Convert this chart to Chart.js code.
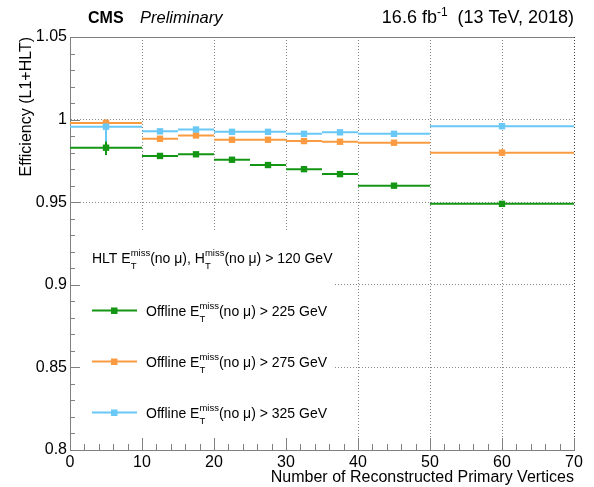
<!DOCTYPE html>
<html><head><meta charset="utf-8">
<script src="https://cdn.jsdelivr.net/npm/chart.js@4/dist/chart.umd.min.js"></script>
<style>html,body{margin:0;padding:0;background:#fff;overflow:hidden}#wrap{width:594px;height:487px}</style>
</head><body><div id="wrap"><canvas id="c" width="594" height="487"></canvas></div>
<script>
// ---- data ----
const binEdges = [0, 10, 15, 20, 25, 30, 35, 40, 50, 70];
const eff225   = [0.983, 0.978, 0.979, 0.9757, 0.9725, 0.970, 0.967, 0.960, 0.949];
const errLo225 = [0.0045, 0.0012, 0.001, 0.001, 0.001, 0.001, 0.001, 0.001, 0.0015];
const errHi225 = [0.0045, 0.0012, 0.001, 0.001, 0.001, 0.001, 0.001, 0.001, 0.0015];
const eff275   = [0.998, 0.9884, 0.9904, 0.9878, 0.9878, 0.987, 0.9866, 0.986, 0.980];
const errLo275 = [0.002, 0.001, 0.001, 0.001, 0.001, 0.001, 0.001, 0.001, 0.002];
const errHi275 = [0.002, 0.001, 0.001, 0.001, 0.001, 0.001, 0.001, 0.001, 0.002];
const eff325   = [0.9957, 0.9929, 0.994, 0.9926, 0.9926, 0.9914, 0.9923, 0.9914, 0.996];
const errLo325 = [0.009, 0.001, 0.001, 0.001, 0.001, 0.001, 0.001, 0.001, 0.0015];
const errHi325 = [0.002, 0.001, 0.001, 0.001, 0.001, 0.001, 0.001, 0.001, 0.0015];
const seriesThresholds = ['225', '275', '325'];
const xMajorTicks = [0, 10, 20, 30, 40, 50, 60, 70];
const xTickLabels = ['0', '10', '20', '30', '40', '50', '60', '70'];
const yMajorTicks = [0.8, 0.85, 0.9, 0.95, 1.0, 1.05];
const yTickLabels = ['0.8', '0.85', '0.9', '0.95', '1', '1.05'];

const COL = {'225':'rgb(20,150,20)', '275':'rgb(250,155,65)', '325':'rgb(105,200,245)'};
const FONT = '"Liberation Sans", Arial, Helvetica, sans-serif';

function hSegs(eff){const d=[];eff.forEach((v,i)=>{d.push({x:binEdges[i],y:v},{x:binEdges[i+1],y:v},{x:binEdges[i+1],y:null});});return d;}
function vSegs(eff,lo,hi){const d=[];eff.forEach((v,i)=>{const c=(binEdges[i]+binEdges[i+1])/2;d.push({x:c,y:v-lo[i]},{x:c,y:v+hi[i]},{x:c,y:null});});return d;}
function centers(eff){return eff.map((v,i)=>({x:(binEdges[i]+binEdges[i+1])/2,y:v}));}

const series = [
  {t:'325', eff:eff325, lo:errLo325, hi:errHi325},
  {t:'275', eff:eff275, lo:errLo275, hi:errHi275},
  {t:'225', eff:eff225, lo:errLo225, hi:errHi225}
];
const datasets = [];
series.forEach(s=>{
  const c = COL[s.t];
  datasets.push({type:'line',data:hSegs(s.eff),borderColor:c,borderWidth:2,pointRadius:0,spanGaps:false,fill:false});
  datasets.push({type:'line',data:vSegs(s.eff,s.lo,s.hi),borderColor:c,borderWidth:2,pointRadius:0,spanGaps:false,fill:false});
  datasets.push({type:'line',data:centers(s.eff),showLine:false,pointStyle:'rect',pointRadius:4.5,backgroundColor:c,borderColor:c,borderWidth:0});
});

function isOn(v, list){return list.findIndex(m=>Math.abs(m-v)<1e-7);}

// rich text: parts = [{t, size, style, dy}] or {stack:true, sup, sub, size}
function rich(ctx, parts, x, y, align){
  const widths = parts.map(p=>{
    if(p.stack){ctx.font=`${p.size}px ${FONT}`;return Math.max(ctx.measureText(p.sup).width, ctx.measureText(p.sub).width);}
    ctx.font=`${p.style||''} ${p.size}px ${FONT}`;return ctx.measureText(p.t).width;
  });
  const total = widths.reduce((a,b)=>a+b,0);
  let cx = align==='right' ? x-total : x;
  ctx.textAlign='left';ctx.textBaseline='alphabetic';ctx.fillStyle='#000';
  parts.forEach((p,i)=>{
    if(p.stack){
      ctx.font=`${p.size}px ${FONT}`;
      ctx.fillText(p.sup,cx,y-7);
      ctx.fillText(p.sub,cx,y+6);
    } else {
      ctx.font=`${p.style||''} ${p.size}px ${FONT}`;
      ctx.fillText(p.t,cx,y+(p.dy||0));
    }
    cx+=widths[i];
  });
}

const LEG = {right:335, top:232};
const decor = {
  id:'decor',
  beforeDatasetsDraw(chart){
    const {ctx, chartArea:a} = chart;
    ctx.save();ctx.fillStyle='#fff';
    ctx.fillRect(a.left+1, LEG.top, LEG.right-a.left-1, a.bottom-LEG.top-1);
    ctx.restore();
  },
  afterDraw(chart){
    const {ctx, chartArea:a, scales:{x,y}} = chart;
    ctx.save();
    ctx.strokeStyle='#808080';ctx.lineWidth=1;
    // top frame
    ctx.beginPath();ctx.moveTo(a.left,a.top+0.5);ctx.lineTo(a.right,a.top+0.5);ctx.stroke();
    // inside ticks
    y.ticks.forEach(t=>{
      const p=Math.round(y.getPixelForValue(t.value))+0.5;
      const L = isOn(t.value,yMajorTicks)>=0 ? 10 : 5;
      ctx.beginPath();ctx.moveTo(a.left,p);ctx.lineTo(a.left+L,p);ctx.stroke();
    });
    x.ticks.forEach(t=>{
      const p=Math.round(x.getPixelForValue(t.value))+0.5;
      const L = isOn(t.value,xMajorTicks)>=0 ? 12 : 6;
      ctx.beginPath();ctx.moveTo(p,a.bottom);ctx.lineTo(p,a.bottom-L);ctx.stroke();
    });
    // header
    rich(ctx,[{t:'CMS',size:16,style:'bold'}],88,23);
    rich(ctx,[{t:'Preliminary',size:16.5,style:'italic'}],140,23);
    rich(ctx,[{t:'16.6 fb',size:18},{t:'-1',size:12,dy:-7},{t:'  (13 TeV, 2018)',size:18}],574,23,'right');
    // legend
    const sz=14, ss=9.5;
    rich(ctx,[{t:'HLT E',size:sz},{stack:true,sup:'miss',sub:'T',size:ss},{t:'(no μ), H',size:sz},{stack:true,sup:'miss',sub:'T',size:ss},{t:'(no μ) > 120 GeV',size:sz}],92,263);
    const rows=[{t:'225',y:316},{t:'275',y:367},{t:'325',y:418}];
    rows.forEach(r=>{
      const c=COL[r.t], ly=r.y-5.5;
      ctx.strokeStyle=c;ctx.lineWidth=2;
      ctx.beginPath();ctx.moveTo(92,ly);ctx.lineTo(137,ly);ctx.stroke();
      ctx.fillStyle=c;ctx.fillRect(111,ly-3,6.5,6.5);
      rich(ctx,[{t:'Offline E',size:sz},{stack:true,sup:'miss',sub:'T',size:ss},{t:`(no μ) > ${r.t} GeV`,size:sz}],146,r.y);
    });
    ctx.restore();
  }
};

new Chart(document.getElementById('c'), {
  type:'line',
  data:{datasets},
  options:{
    responsive:false, animation:false, devicePixelRatio:1,
    layout:{padding:{top:37,right:20,left:0,bottom:0}},
    plugins:{legend:{display:false},tooltip:{enabled:false}},
    scales:{
      x:{type:'linear',min:0,max:70,
        afterFit(s){s.height=37;},
        ticks:{stepSize:2,autoSkip:false,maxRotation:0,padding:3,color:'#000',font:{family:FONT,size:16},
          callback:(v)=>{const i=isOn(v,xMajorTicks);return i>=0?xTickLabels[i]:'';}},
        grid:{drawTicks:false,lineWidth:1,color:(ctx)=>{const v=ctx.tick&&ctx.tick.value;if(v===undefined)return 'rgba(0,0,0,0)';if(v>0&&isOn(v,xMajorTicks)>=0)return v===70?'#444':'#888';return 'rgba(0,0,0,0)';}},
        border:{display:true,color:'#808080',width:1,dash:[1,2]},
        title:{display:true,text:'Number of Reconstructed Primary Vertices',align:'end',color:'#000',font:{family:FONT,size:16},padding:{top:0,bottom:0}}
      },
      y:{type:'linear',min:0.8,max:1.05,
        afterFit(s){s.width=70;},
        ticks:{stepSize:0.01,autoSkip:false,padding:3,color:'#000',font:{family:FONT,size:16},
          callback:(v)=>{const i=isOn(v,yMajorTicks);return i>=0?yTickLabels[i]:'';}},
        grid:{drawTicks:false,lineWidth:1,color:(ctx)=>{const v=ctx.tick&&ctx.tick.value;if(v===undefined)return 'rgba(0,0,0,0)';const i=isOn(v,yMajorTicks);if(i>0&&i<yMajorTicks.length-1)return '#888';return 'rgba(0,0,0,0)';}},
        border:{display:true,color:'#808080',width:1,dash:[1,2]},
        title:{display:true,text:'Efficiency (L1+HLT)',align:'end',color:'#000',font:{family:FONT,size:16},padding:{top:17,bottom:0}}
      }
    }
  },
  plugins:[decor]
});
</script></body></html>
